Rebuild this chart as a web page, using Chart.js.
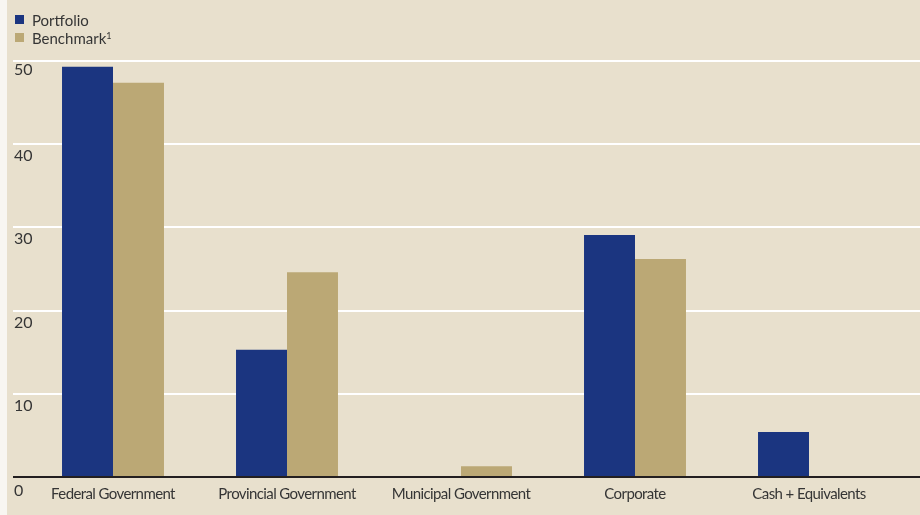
<!DOCTYPE html>
<html>
<head>
<meta charset="utf-8">
<script src="https://cdn.jsdelivr.net/npm/chart.js@4/dist/chart.umd.min.js"></script>
<style>
  html, body { margin: 0; padding: 0; background: #f8f6f1; }
  #wrap { position: relative; width: 920px; height: 515px; overflow: hidden; }
  #bg { position: absolute; left: 7px; top: 0; right: 0; bottom: 0; background: #e8e0cd; }
  #chart { position: absolute; left: 0; top: 0; }
  .legend { position: absolute; left: 15px; top: 11px; font-family: Lato, "Open Sans", sans-serif; font-size: 15px; color: #353535; }
  .item { position: relative; height: 18px; line-height: 18px; padding-left: 17px; white-space: nowrap; }
  .sw { position: absolute; left: 0; top: 4px; width: 9px; height: 9px; }
  sup { font-size: 9px; vertical-align: 0; position: relative; top: -5px; }
</style>
</head>
<body>
<div id="wrap">
  <div id="bg"></div>
  <canvas id="chart" width="920" height="515"></canvas>
  <div class="legend">
    <div class="item"><span class="sw" style="background:#1b3580"></span>Portfolio</div>
    <div class="item"><span class="sw" style="background:#bba875"></span>Benchmark<sup>1</sup></div>
  </div>
</div>
<script>
const categories = ["Federal Government", "Provincial Government", "Municipal Government", "Corporate", "Cash + Equivalents"];
const portfolio = [49.3, 15.3, 0, 29.1, 5.4];
const benchmark = [47.4, 24.6, 1.3, 26.2, 0];
const yTicks = [0, 10, 20, 30, 40, 50];

const NAVY = "#1b3580";
const TAN = "#bba875";
const TEXT = "#353535";
const LABEL_FONT = "16px Lato, 'Open Sans', sans-serif";

const gridPlugin = {
  id: "customGrid",
  beforeUpdate(chart) { chart.ctx.letterSpacing = "-0.6px"; },
  beforeDraw(chart) { chart.ctx.letterSpacing = "-0.6px"; },
  beforeDatasetsDraw(chart) {
    const ctx = chart.ctx;
    const y = chart.scales.y;
    ctx.save();
    ctx.letterSpacing = "0px";
    ctx.strokeStyle = "#ffffff";
    ctx.lineWidth = 2;
    yTicks.forEach(v => {
      if (v === 0) return;
      const py = Math.round(y.getPixelForValue(v));
      ctx.beginPath();
      ctx.moveTo(13, py);
      ctx.lineTo(chart.width, py);
      ctx.stroke();
    });
    ctx.fillStyle = TEXT;
    ctx.font = LABEL_FONT;
    ctx.textAlign = "left";
    ctx.textBaseline = "alphabetic";
    yTicks.forEach(v => {
      const py = y.getPixelForValue(v);
      let off = 17;
      if (v === 50) off = 14;
      if (v === 0) off = 19;
      ctx.fillText(String(v), 14, py + off);
    });
    ctx.restore();
  },
  afterDatasetsDraw(chart) {
    const ctx = chart.ctx;
    const y = chart.scales.y;
    const py = y.getPixelForValue(0);
    ctx.save();
    ctx.strokeStyle = "#231f20";
    ctx.lineWidth = 2;
    ctx.beginPath();
    ctx.moveTo(13, py);
    ctx.lineTo(chart.width, py);
    ctx.stroke();
    ctx.restore();
  }
};

new Chart(document.getElementById("chart"), {
  type: "bar",
  data: {
    labels: categories,
    datasets: [
      { label: "Portfolio", data: portfolio, backgroundColor: NAVY, borderWidth: 0 },
      { label: "Benchmark", data: benchmark, backgroundColor: TAN, borderWidth: 0 }
    ]
  },
  options: {
    responsive: false,
    animation: false,
    devicePixelRatio: 1,
    datasets: { bar: { barPercentage: 1, categoryPercentage: 0.586 } },
    layout: { padding: { left: 26, right: 24, top: 61, bottom: 0 } },
    plugins: { legend: { display: false }, tooltip: { enabled: false } },
    scales: {
      x: {
        grid: { display: false, drawTicks: false },
        border: { display: false },
        ticks: {
          color: TEXT,
          padding: 8,
          maxRotation: 0,
          autoSkip: false,
          font: { family: "Lato, sans-serif", size: 15 }
        },
        afterFit(scale) { scale.height = 38; }
      },
      y: {
        display: false,
        min: 0,
        max: 50
      }
    }
  },
  plugins: [gridPlugin]
});
</script>
</body>
</html>
